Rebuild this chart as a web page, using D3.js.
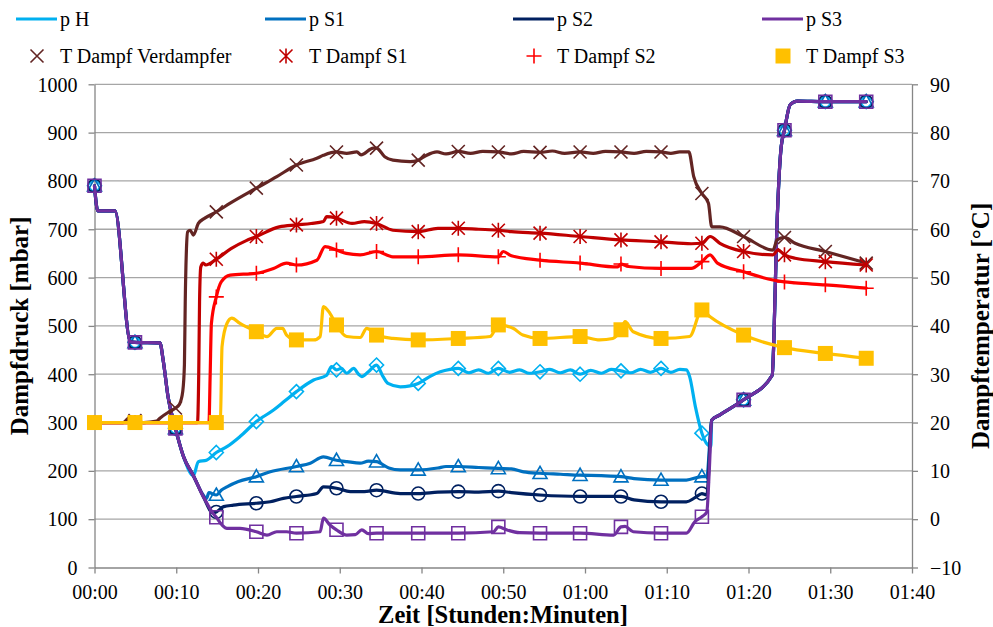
<!DOCTYPE html>
<html>
<head>
<meta charset="utf-8">
<script src="https://cdn.jsdelivr.net/npm/d3@7"></script>
<style>
  body { margin: 0; background: #fff; }
  svg { display: block; }
  text { font-family: "Liberation Serif", "Times New Roman", serif; fill: #000; }
</style>
</head>
<body>
<svg id="chart" width="993" height="627"></svg>
<script>
// ---- axis ticks -------------------------------------------------------
const timeTicks = [0, 10, 20, 30, 40, 50, 60, 70, 80, 90, 100];
const timeLabels = ["00:00", "00:10", "00:20", "00:30", "00:40", "00:50",
                    "01:00", "01:10", "01:20", "01:30", "01:40"];
const pressureTicks = [0, 100, 200, 300, 400, 500, 600, 700, 800, 900, 1000];
const tempTicks = [-10, 0, 10, 20, 30, 40, 50, 60, 70, 80, 90];

// ---- pressure series [minutes, mbar, marker?] -------------------------
// start of the run, identical for all four pressure channels
const pHead = [[0, 790, 1], [0.4, 738], [2.5, 738], [4.4, 467], [4.95, 466, 1], [8, 465],
  [8.4, 429], [9.0, 353], [9.9, 288, 1], [10.9, 229], [12.1, 190]];
// end of the run, identical for all four pressure channels
const pTail = [[75.5, 305], [76.5, 316], [79.4, 347, 1], [82.9, 398], [83.1, 470],
  [83.4, 664], [84.0, 871], [84.4, 905, 1], [85.1, 958], [86, 965], [89.4, 964, 1], [94.4, 964, 1]];

const pH = [[12.7, 219], [13.7, 222], [14.9, 238, 1], [16.2, 250], [17.8, 271], [19.8, 302, 1],
  [21.9, 326], [23.3, 345], [24.7, 364, 1], [26.8, 388], [28.4, 398], [29.0, 416], [29.6, 409, 1],
  [30.2, 412], [30.85, 402], [31.7, 412], [32.3, 400], [32.7, 395], [33.5, 405], [34.5, 419, 1],
  [35.3, 395], [35.9, 381], [37.4, 374], [38.6, 376], [39.6, 381, 1], [41.0, 395], [42.3, 405],
  [43.5, 410], [44.5, 412, 1], [45.8, 403], [47, 409], [48.2, 402], [49.4, 412, 1], [50.8, 404],
  [52, 409], [53.2, 402], [54.5, 405, 1], [55.7, 410], [57, 403], [58.2, 409], [59.4, 400, 1],
  [60.7, 408], [62, 402], [63.2, 410], [64.4, 407, 1], [65.6, 403], [66.8, 410], [68, 404],
  [69.3, 412, 1], [70.5, 404], [71.6, 410], [72.4, 409], [72.8, 395], [73.5, 333], [74.3, 278, 1],
  [75.0, 254], [75.4, 250]];

const pS1 = [[13.3, 150], [13.7, 143], [14.0, 155], [14.9, 150, 1], [15.5, 160], [16.2, 167],
  [17.6, 178], [19.8, 188, 1], [21.5, 198], [24.7, 209, 1], [26.4, 216], [28.0, 229], [29.6, 222, 1],
  [30.9, 219], [32.5, 216], [33.5, 220], [34.5, 219, 1], [36, 206], [37.4, 202], [39.6, 202, 1],
  [42, 206], [43, 209], [44.5, 209, 1], [47, 207], [49.4, 205, 1], [51, 204], [52.5, 198],
  [54.5, 195, 1], [57, 193], [59.4, 191, 1], [62, 190], [64.4, 188, 1], [66, 184], [69.3, 181, 1],
  [72.4, 181], [74.3, 188, 1], [74.9, 188]];

const pS2 = [[13.3, 147], [14.5, 113], [14.9, 115, 1], [15.8, 126], [17, 129], [19.8, 133, 1],
  [21.5, 136], [23.1, 143], [24.7, 147, 1], [27.2, 153], [28, 167], [29.6, 164, 1], [31.3, 157],
  [33, 157], [34.5, 160, 1], [37.4, 153], [39.6, 153, 1], [42, 156], [44.5, 157, 1], [47, 156],
  [49.4, 158, 1], [51, 155], [54.5, 150, 1], [59.4, 147, 1], [64.4, 147, 1], [66, 140],
  [69.3, 136, 1], [72.4, 136], [73.5, 145], [74.3, 153, 1], [74.9, 150]];

const pS3 = [[13.3, 147], [14.5, 112], [14.9, 104, 1], [15.6, 88], [16.2, 81], [17.8, 81],
  [19.8, 74, 1], [21.1, 67], [22.3, 74], [23.5, 74], [24.7, 71, 1], [27.6, 74], [28.0, 102],
  [28.8, 88], [29.6, 78, 1], [30.85, 67], [31.9, 68], [32.7, 78], [33.5, 70], [34.5, 71, 1],
  [37.4, 71], [39.6, 71, 1], [44.5, 71, 1], [48.8, 74], [49.4, 84, 1], [50.4, 78], [52, 72],
  [54.5, 71, 1], [59.4, 71, 1], [63.5, 67], [64.4, 84, 1], [64.9, 85], [65.9, 74], [69.3, 71, 1],
  [72.4, 71], [73.45, 95], [74.3, 105, 1], [74.9, 115], [75.2, 200]];

// ---- steam temperature series [minutes, degC, marker?] ----------------
const tVerdampfer = [[0, 20, 1], [3.5, 20], [4.4, 21.2], [4.95, 20.4, 1], [6, 20], [7.6, 20.3],
  [8.0, 20.9], [9.1, 22.2], [9.9, 23.0, 1], [10.4, 23.8], [10.8, 26.5], [11.0, 32], [11.1, 45],
  [11.25, 56], [11.4, 59.5], [11.7, 59.8], [12.1, 58.8], [12.7, 61.2], [13.5, 62.3], [14.9, 63.6, 1],
  [16.6, 65.4], [19.8, 68.5, 1], [22.3, 70.9], [24.7, 73.3, 1], [27.2, 74.7], [28, 75.3],
  [29.6, 76.0, 1], [30.85, 75.7], [32.1, 76.0], [32.6, 75.4], [34.1, 76.8], [34.5, 76.8, 1],
  [35.5, 75], [36.5, 74.3], [38.6, 74.0], [39.6, 74.3, 1], [40.5, 75.2], [41.9, 76.0], [43, 75.6],
  [44.5, 76.1, 1], [46, 75.7], [47.5, 76.1], [49.4, 76, 1], [51, 75.6], [52.5, 76.1], [54.5, 75.9, 1],
  [56, 76.2], [57.5, 75.7], [59.4, 76, 1], [61, 75.7], [62.5, 76.1], [64.4, 76, 1], [66, 75.7],
  [67.5, 76.1], [69.3, 76, 1], [70.5, 75.7], [71.6, 76.0], [72.7, 76], [73.3, 70.9], [74.3, 67.4, 1],
  [75.1, 65.4], [75.5, 60.5], [76.5, 60.5], [79.4, 58.5, 1], [83.0, 55.7], [83.5, 57.8],
  [84.4, 58.3, 1], [85.7, 57.1], [89.4, 55.4, 1], [94.4, 53, 1]];

const tS1 = [[0, 20, 1], [4.95, 20, 1], [9.9, 20, 1], [12.6, 20], [12.75, 30], [12.85, 45],
  [13.0, 52.2], [13.3, 53], [13.6, 52.6], [14.9, 53.8, 1], [16.7, 56], [18.5, 57.6], [19.8, 58.5, 1],
  [22.6, 60.5], [24.7, 60.9, 1], [26.5, 61.2], [28, 61.6], [28.4, 62.6], [29.6, 62.3, 1], [31.5, 61.2],
  [33, 61.6], [34.5, 61.2, 1], [36.5, 59.8], [39.6, 59.5, 1], [42, 60.2], [44.5, 60.2, 1], [47, 60],
  [49.4, 59.8, 1], [51, 59.5], [54.5, 59.2, 1], [59.4, 58.5, 1], [64.4, 57.8, 1], [69.3, 57.4, 1],
  [73, 57], [74.3, 57.1, 1], [75.3, 58.5], [76.5, 57.1], [79.4, 55.4, 1], [83.0, 54.7], [83.6, 55.7],
  [84.4, 54.7, 1], [85.7, 54], [89.4, 53.3, 1], [94.4, 52.6, 1]];

const tS2 = [[0, 20, 1], [4.95, 20, 1], [9.9, 20, 1], [14.0, 20], [14.15, 30], [14.3, 40.5],
  [14.9, 46, 1], [15.5, 49.1], [16.6, 50.5], [19.8, 50.9, 1], [21.9, 51.9], [23.5, 53], [24.7, 52.6, 1],
  [27.2, 53.6], [28.2, 56.4], [29.6, 55.7, 1], [30.8, 55], [32.5, 54.7], [34.5, 55.4, 1], [36.5, 54.3],
  [39.6, 54.3, 1], [44.5, 54.7, 1], [49.4, 54.3, 1], [50.0, 55.4], [51.0, 54.5], [54.5, 53.6, 1],
  [59.4, 53, 1], [64.0, 52.2], [64.4, 52.8, 1], [65.3, 52.3], [69.3, 51.9, 1], [73, 51.9],
  [74.3, 53.3, 1], [75.3, 54.7], [76.2, 53], [79.4, 51.2, 1], [83.0, 49.5], [84.4, 49.1, 1],
  [85.7, 48.9], [89.4, 48.5, 1], [94.4, 47.8, 1]];

const tS3 = [[0, 20, 1], [4.95, 20, 1], [9.9, 20, 1], [14.9, 20, 1], [15.4, 20.5], [15.6, 35.7],
  [16.2, 40.5], [16.8, 41.6], [17.8, 40.5], [19.8, 38.8, 1], [21.1, 37.8], [22.3, 39.5], [23.0, 39.5],
  [23.5, 38.1], [24.7, 37.1, 1], [26.8, 37.1], [27.6, 37.8], [28.0, 44], [28.8, 42.6], [29.6, 40.2, 1],
  [30.85, 37.8], [32.5, 37.6], [33.3, 39.5], [34.5, 38.1, 1], [36.5, 37.4], [39.6, 37.1, 1],
  [44.5, 37.4, 1], [48.4, 37.8], [49.4, 40.2, 1], [51.2, 39.5], [52.4, 38.1], [54.5, 37.4, 1],
  [59.4, 37.8, 1], [61.8, 37.1], [63.4, 37.4], [64.4, 39.2, 1], [64.9, 40.9], [65.9, 38.8],
  [69.3, 37.4, 1], [72.8, 37.8], [74.3, 43.3, 1], [75.3, 41.9], [79.4, 38.1, 1], [84.4, 35.5, 1],
  [89.4, 34.3, 1], [94.4, 33.3, 1]];

// ---- series definitions ----------------------------------------------
const pressureSeries = [
  { name: "p H",  color: "#00B0F0", marker: "diamond",  data: [...pHead, ...pH,  ...pTail] },
  { name: "p S1", color: "#0070C0", marker: "triangle", data: [...pHead, ...pS1, ...pTail] },
  { name: "p S2", color: "#002060", marker: "circle",   data: [...pHead, ...pS2, ...pTail] },
  { name: "p S3", color: "#7030A0", marker: "square",   data: [...pHead, ...pS3, ...pTail] }
];
const tempSeries = [
  { name: "T Dampf Verdampfer", color: "#632523", marker: "x",        data: tVerdampfer },
  { name: "T Dampf S1",         color: "#C00000", marker: "asterisk", data: tS1 },
  { name: "T Dampf S2",         color: "#FF0000", marker: "plus",     data: tS2 },
  { name: "T Dampf S3",         color: "#FFC000", marker: "fsquare",  data: tS3 }
];

// ---- layout -----------------------------------------------------------
const svg = d3.select("#chart");
const X0 = 94.5, X1 = 912, Y0 = 567.5, Y1 = 84.3;

const x = d3.scaleLinear().domain([0, 100]).range([X0, X1]);
const yP = d3.scaleLinear().domain([0, 1000]).range([Y0, Y1]);
const yT = d3.scaleLinear().domain([-10, 90]).range([Y0, Y1]);

// gridlines
svg.append("g").selectAll("line").data(pressureTicks.filter(d => d > 0)).join("line")
  .attr("x1", X0).attr("x2", X1)
  .attr("y1", d => yP(d)).attr("y2", d => yP(d))
  .attr("stroke", "#A6A6A6").attr("stroke-width", 1.3);

// axes
const axisColor = "#868686";
function styleAxis(g) {
  g.attr("font-family", null).attr("font-size", null);
  g.select(".domain").attr("stroke", axisColor).attr("stroke-width", 1.3);
  g.selectAll(".tick line").attr("stroke", axisColor).attr("stroke-width", 1.3);
  g.selectAll("text").style("font-size", "20px")
    .style("font-family", "'Liberation Serif','Times New Roman',serif").attr("fill", "#000");
}

svg.append("g").attr("transform", `translate(0,${Y0})`)
  .call(d3.axisBottom(x).tickValues(timeTicks).tickSize(6).tickSizeOuter(0)
    .tickFormat((d, i) => timeLabels[i]))
  .call(styleAxis)
  .call(g => g.selectAll("text").attr("y", 31.5).attr("dy", 0));

svg.append("g").attr("transform", `translate(${X0},0)`)
  .call(d3.axisLeft(yP).tickValues(pressureTicks).tickSize(6).tickSizeOuter(0).tickPadding(11)
    .tickFormat(d3.format("d")))
  .call(styleAxis)
  .call(g => g.selectAll("text").attr("dy", "0.34em"));

svg.append("g").attr("transform", `translate(${X1},0)`)
  .call(d3.axisRight(yT).tickValues(tempTicks).tickSize(6).tickSizeOuter(0).tickPadding(12)
    .tickFormat(d3.format("d")))
  .call(styleAxis)
  .call(g => g.selectAll("text").attr("dy", "0.34em"));

// axis titles
svg.append("text").attr("transform", `translate(28,${(Y0 + Y1) / 2}) rotate(-90)`)
  .attr("text-anchor", "middle").style("font-size", "25px").style("font-weight", "bold")
  .text("Dampfdruck [mbar]");
svg.append("text").attr("transform", `translate(989,${(Y0 + Y1) / 2}) rotate(-90)`)
  .attr("text-anchor", "middle").style("font-size", "25px").style("font-weight", "bold")
  .text("Dampftemperatur [°C]");
svg.append("text").attr("x", 503).attr("y", 622.5)
  .attr("text-anchor", "middle").style("font-size", "24.5px").style("font-weight", "bold")
  .text("Zeit [Stunden:Minuten]");

// ---- marker shapes ----------------------------------------------------
function markerPath(type) {
  const p = d3.path();
  if (type === "diamond") { const r = 7; p.moveTo(0, -r); p.lineTo(r, 0); p.lineTo(0, r); p.lineTo(-r, 0); p.closePath(); }
  else if (type === "triangle") { const r = 7; p.moveTo(0, -r); p.lineTo(r, r * 0.75); p.lineTo(-r, r * 0.75); p.closePath(); }
  else if (type === "circle") { p.arc(0, 0, 6.5, 0, 2 * Math.PI); p.closePath(); }
  else if (type === "square") { p.rect(-6.5, -6.5, 13, 13); }
  else if (type === "fsquare") { p.rect(-7.5, -7.5, 15, 15); }
  else if (type === "x") { const r = 6.5; p.moveTo(-r, -r); p.lineTo(r, r); p.moveTo(-r, r); p.lineTo(r, -r); }
  else if (type === "asterisk") { const r = 6.5; p.moveTo(-r, -r); p.lineTo(r, r); p.moveTo(-r, r); p.lineTo(r, -r); p.moveTo(0, -r - 1); p.lineTo(0, r + 1); }
  else if (type === "plus") { const r = 7.5; p.moveTo(-r, 0); p.lineTo(r, 0); p.moveTo(0, -r); p.lineTo(0, r); }
  return p.toString();
}
function drawMarker(sel, s) {
  sel.attr("d", markerPath(s.marker))
    .attr("fill", s.marker === "fsquare" ? s.color : "none")
    .attr("stroke", s.marker === "fsquare" ? "none" : s.color)
    .attr("stroke-width", s.marker === "fsquare" ? 0 : 1.6);
}

// ---- series -----------------------------------------------------------
function drawSeries(list, yScale) {
  list.forEach(s => {
    const line = d3.line().x(d => x(d[0])).y(d => yScale(d[1])).curve(d3.curveMonotoneX);
    const g = svg.append("g");
    g.append("path").datum(s.data).attr("d", line)
      .attr("fill", "none").attr("stroke", s.color).attr("stroke-width", 3.2)
      .attr("stroke-linejoin", "round").attr("stroke-linecap", "round");
    g.selectAll("path.m").data(s.data.filter(d => d[2])).join("path").attr("class", "m")
      .attr("transform", d => `translate(${x(d[0])},${yScale(d[1])})`)
      .call(drawMarker, s);
  });
}
drawSeries(pressureSeries, yP);
drawSeries(tempSeries, yT);

// ---- legend -----------------------------------------------------------
const legendX = [60, 309, 557, 806];
const legend = svg.append("g");
pressureSeries.forEach((s, i) => {
  legend.append("line").attr("x1", legendX[i] - 44).attr("x2", legendX[i] - 3)
    .attr("y1", 19).attr("y2", 19).attr("stroke", s.color).attr("stroke-width", 3.2);
  legend.append("text").attr("x", legendX[i]).attr("y", 26).style("font-size", "20px").text(s.name);
});
tempSeries.forEach((s, i) => {
  legend.append("path").attr("transform", `translate(${legendX[i] - 23},56)`).call(drawMarker, s);
  legend.append("text").attr("x", legendX[i]).attr("y", 63).style("font-size", "20px").text(s.name);
});
</script>
</body>
</html>
